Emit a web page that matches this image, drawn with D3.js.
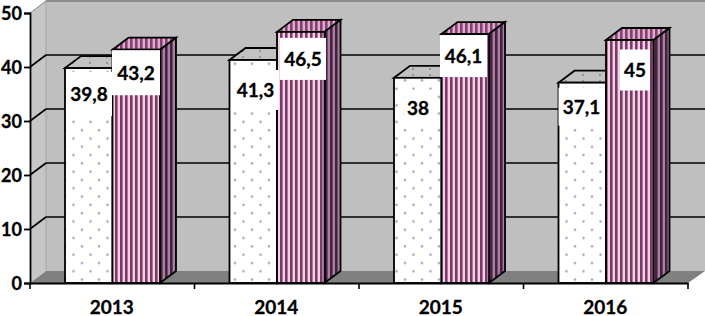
<!DOCTYPE html>
<html><head><meta charset="utf-8">
<style>html,body{margin:0;padding:0;background:#fff}svg{display:block}</style>
<script src="https://cdn.jsdelivr.net/npm/d3@7/dist/d3.min.js"></script></head>
<body><svg id="c" width="705" height="316"></svg>
<script>
const categories=["2013","2014","2015","2016"];
const seriesA=[39.8,41.3,38,37.1];
const seriesB=[43.2,46.5,46.1,45];
const labelsA=["39,8","41,3","38","37,1"];
const labelsB=["43,2","46,5","46,1","45"];
const yTicks=[0,10,20,30,40,50];
// label box placement: [offset from band start, offset below bar top, width, height]
const labelBoxA=[[59,26,46,44],[61,30,47,40],[59,30,28,36],[58,24,46,38]];
const labelBoxB=[[106,23,48,45],[108.5,27,46,42],[104.5,22,47,42],[111.5,30,30,41]];

const svg=d3.select("#c");
const x0=30,x1=688,y0=283,y1=13,dx=16,dy=-12;
const x=d3.scaleBand().domain(categories).range([x0,x1]);
const y=d3.scaleLinear().domain([0,50]).range([y0,y1]);
const bw=47.5, gap=35;
const font='Lato,sans-serif';
const fs=19;
const defs=svg.append("defs");
function pat(id,w,h,build){const p=defs.append("pattern").attr("id",id).attr("patternUnits","userSpaceOnUse").attr("width",w).attr("height",h);build(p);}
pat("dots",17,16.6,p=>{p.append("rect").attr("width",17).attr("height",16.6).attr("fill","#fff");
 [[5.5,5.7],[14,14]].forEach(d=>p.append("circle").attr("cx",d[0]).attr("cy",d[1]).attr("r",1.3).attr("fill","#aca6cc"));});
const stripe=(id,a,b)=>pat(id,5,6,p=>{p.append("rect").attr("width",5).attr("height",6).attr("fill",b);p.append("rect").attr("width",2.6).attr("height",6).attr("fill",a);});
stripe("sF","#7c3a6c","#f2d3e2");
stripe("sT","#843f74","#dcaeca");
stripe("sS","#4a2042","#a583a0");
pat("dotsTop",17,6,p=>{p.append("rect").attr("width",17).attr("height",6).attr("fill","#c2c2c2");p.append("circle").attr("cx",5).attr("cy",3).attr("r",1).attr("fill","#85858f");});

const poly=(pts,fill,stroke,sw)=>svg.append("polygon").attr("points",pts.map(p=>p.join(",")).join(" ")).attr("fill",fill).attr("stroke",stroke||"none").attr("stroke-width",sw||0);
svg.append("rect").attr("x",x0+dx).attr("y",0).attr("width",705-x0-dx).attr("height",y0+dy).attr("fill","#bfbfbf");
svg.append("rect").attr("x",x0+dx).attr("y",0).attr("width",705-x0-dx).attr("height",2).attr("fill","#8c8c8c");
poly([[x0,y1],[x0+dx,y1+dy],[x0+dx,y0+dy],[x0,y0]],"#c6c6c6");
svg.append("line").attr("x1",x0+dx).attr("x2",x0+dx).attr("y1",0).attr("y2",y0+dy).attr("stroke","#a6a6a6");
poly([[x0,y0],[x0+dx,y0+dy],[705,y0+dy],[x1,y0]],"#808080");
yTicks.filter(t=>t>0).forEach(t=>{
  if(t<50){svg.append("line").attr("x1",x0+dx).attr("x2",705).attr("y1",y(t)+dy).attr("y2",y(t)+dy).attr("stroke","#000").attr("stroke-width",1.6);}
  svg.append("line").attr("x1",x0).attr("x2",x0+dx).attr("y1",y(t)).attr("y2",y(t)+dy).attr("stroke",t<50?"#000":"#888").attr("stroke-width",t<50?1.6:1);
});
function bar(left,v,front,top,side){
  const T=y(v),R=left+bw;
  poly([[left,T],[left+dx,T+dy],[R+dx,T+dy],[R,T]],top,"#000",1.8);
  poly([[R,T],[R+dx,T+dy],[R+dx,y0+dy],[R,y0]],side,"#000",1.8);
  svg.append("rect").attr("x",left).attr("y",T).attr("width",bw).attr("height",y0-T).attr("fill",front).attr("stroke","#000").attr("stroke-width",1.8);
}
function label(cat,v,txt,box){
  const cx=x(cat)+box[0],cy=y(v)+box[1];
  svg.append("rect").attr("x",cx-box[2]/2).attr("y",cy-box[3]/2).attr("width",box[2]).attr("height",box[3]).attr("fill","#fff");
  svg.append("text").attr("x",cx).attr("y",cy+7).attr("text-anchor","middle").attr("font-family",font).attr("font-weight",700).attr("font-size",fs).attr("fill","#000").attr("stroke","#000").attr("stroke-width",0.3).text(txt);
}
categories.forEach((c,i)=>{
  const L=x(c)+gap;
  bar(L,seriesA[i],"url(#dots)","url(#dotsTop)","#fff");
  bar(L+bw,seriesB[i],"url(#sF)","url(#sT)","url(#sS)");
});
categories.forEach((c,i)=>{
  label(c,seriesA[i],labelsA[i],labelBoxA[i]);
  label(c,seriesB[i],labelsB[i],labelBoxB[i]);
});
const ax=svg.append("g").attr("transform",`translate(${x0},0)`).call(d3.axisLeft(y).tickValues(yTicks).tickSize(6).tickPadding(2));
const bx=svg.append("g").attr("transform",`translate(0,${y0})`).call(d3.axisBottom(x).tickValues([]).tickSize(0));
[...categories.map(c=>x(c)),x1].forEach(p=>svg.append("line").attr("x1",p).attr("x2",p).attr("y1",y0).attr("y2",y0+6).attr("stroke","#000").attr("stroke-width",1.6));
categories.forEach(c=>svg.append("text").attr("x",x(c)+x.bandwidth()/2-0.5).attr("y",y0+30.5).attr("text-anchor","middle").attr("font-family",font).attr("font-weight",700).attr("font-size",fs).attr("stroke","#000").attr("stroke-width",0.3).text(c));
ax.selectAll("path,line").attr("stroke","#000").attr("stroke-width",1.8);
bx.selectAll("path").attr("stroke","#000").attr("stroke-width",1.8);
ax.selectAll("text").attr("font-family",font).attr("font-weight",700).attr("font-size",18).attr("dy","0.38em").attr("fill","#000").attr("stroke","#000").attr("stroke-width",0.3);
</script></body></html>
